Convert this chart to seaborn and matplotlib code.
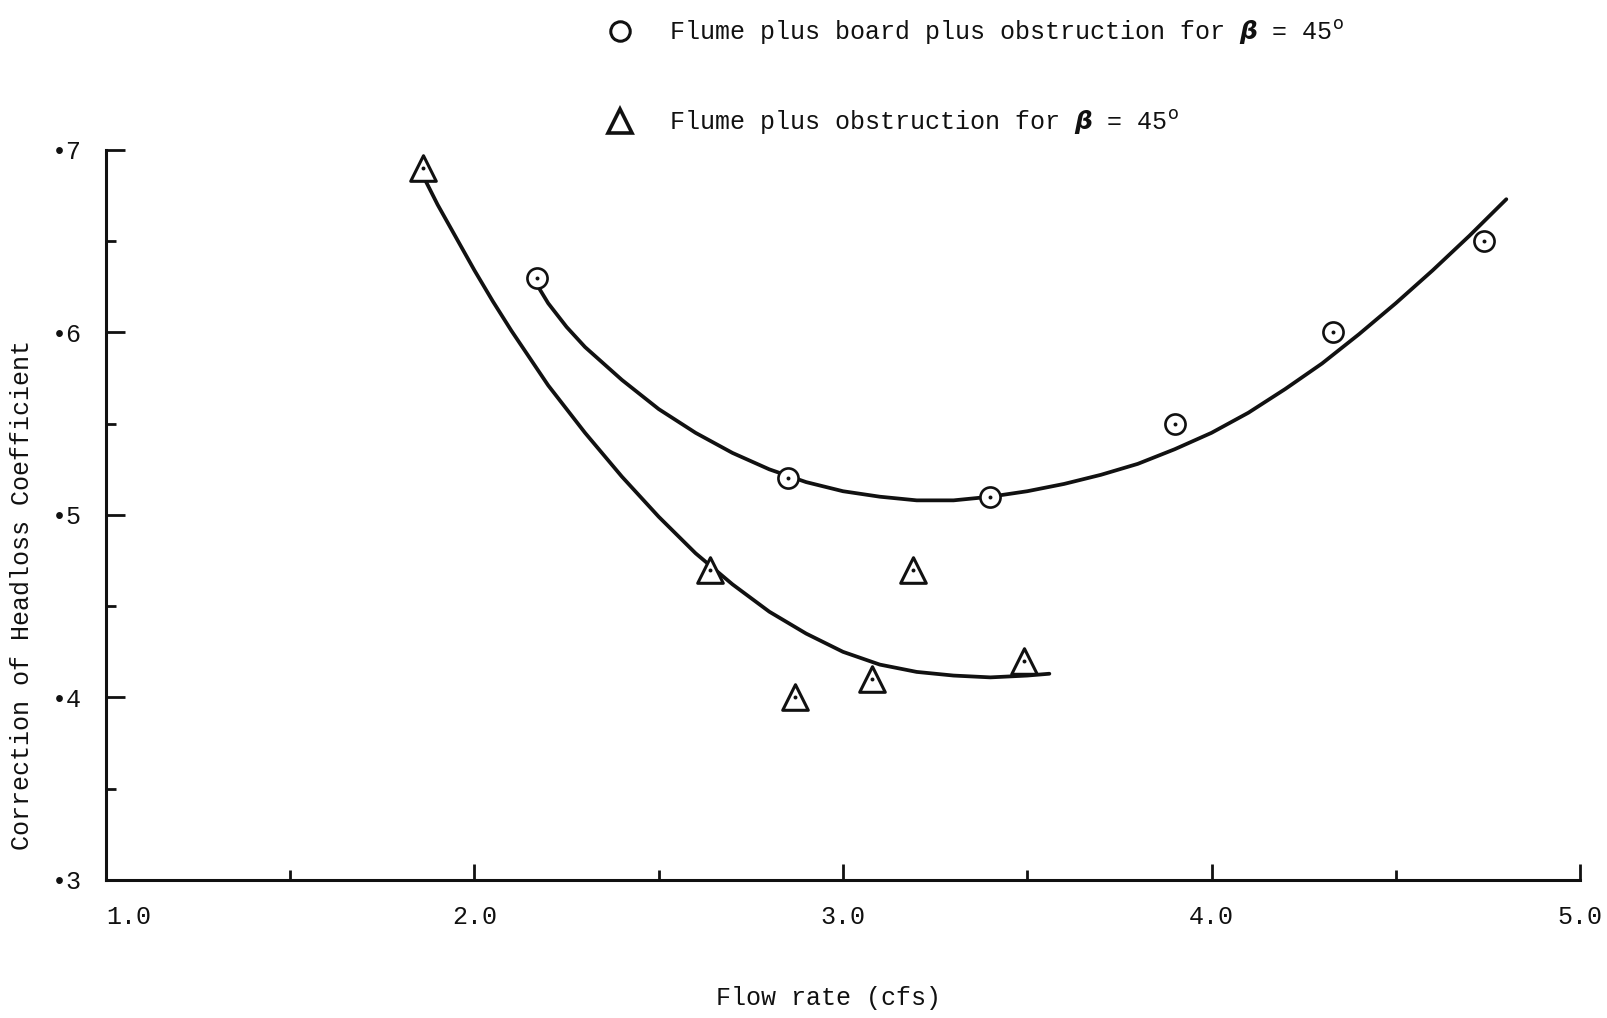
import matplotlib
matplotlib.use("Agg")
import matplotlib.pyplot as plt
import seaborn as sns
import pandas as pd
from matplotlib.lines import Line2D

# Measured points: flume plus board plus obstruction (beta = 45 deg)
board_flow = [2.17, 2.85, 3.40, 3.90, 4.33, 4.74]
board_coef = [0.63, 0.52, 0.51, 0.55, 0.60, 0.65]

# Measured points: flume plus obstruction (beta = 45 deg)
obst_flow = [1.86, 2.64, 2.87, 3.08, 3.19, 3.49]
obst_coef = [0.69, 0.47, 0.40, 0.41, 0.47, 0.42]

# Faired curves drawn through each data set
board_curve_flow = [2.17, 2.20, 2.25, 2.30, 2.40, 2.50, 2.60, 2.70, 2.80, 2.90,
                    3.00, 3.10, 3.20, 3.30, 3.40, 3.50, 3.60, 3.70, 3.80, 3.90,
                    4.00, 4.10, 4.20, 4.30, 4.40, 4.50, 4.60, 4.70, 4.80]
board_curve_coef = [0.626, 0.616, 0.603, 0.592, 0.574, 0.558, 0.545, 0.534, 0.525, 0.518,
                    0.513, 0.510, 0.508, 0.508, 0.510, 0.513, 0.517, 0.522, 0.528, 0.536,
                    0.545, 0.556, 0.569, 0.583, 0.599, 0.616, 0.634, 0.653, 0.673]
obst_curve_flow = [1.86, 1.90, 1.95, 2.00, 2.05, 2.10, 2.15, 2.20, 2.25, 2.30,
                   2.40, 2.50, 2.60, 2.70, 2.80, 2.90, 3.00, 3.10, 3.20, 3.30,
                   3.40, 3.50, 3.56]
obst_curve_coef = [0.686, 0.670, 0.652, 0.634, 0.617, 0.601, 0.586, 0.571, 0.558, 0.545,
                   0.521, 0.499, 0.479, 0.462, 0.447, 0.435, 0.425, 0.418, 0.414, 0.412,
                   0.411, 0.412, 0.413]

# Axis ticks and labels
x_major = [1.0, 2.0, 3.0, 4.0, 5.0]
x_minor = [1.5, 2.5, 3.5, 4.5]
x_labels = ["1.0", "2.0", "3.0", "4.0", "5.0"]
y_major = [0.3, 0.4, 0.5, 0.6, 0.7]
y_minor = [0.35, 0.45, 0.55, 0.65]
y_labels = ["•3", "•4", "•5", "•6", "•7"]

legend_labels = [
    r"Flume plus board plus obstruction for $\boldsymbol{\beta}$ = 45$^{\rm o}$",
    r"Flume plus obstruction for $\boldsymbol{\beta}$ = 45$^{\rm o}$",
]

sns.set_theme(style="white")
plt.rcParams["font.family"] = ["Liberation Mono", "DejaVu Sans"]
plt.rcParams["mathtext.fontset"] = "dejavusans"

board_pts = pd.DataFrame({"flow": board_flow, "coef": board_coef})
obst_pts = pd.DataFrame({"flow": obst_flow, "coef": obst_coef})
board_curve = pd.DataFrame({"flow": board_curve_flow, "coef": board_curve_coef})
obst_curve = pd.DataFrame({"flow": obst_curve_flow, "coef": obst_curve_coef})

fig = plt.figure(figsize=(16.08, 10.18), dpi=100)
ax = fig.add_axes([0.0659, 0.1356, 0.9167, 0.7171])

ink = "#111111"

sns.lineplot(data=board_curve, x="flow", y="coef", sort=False, estimator=None,
             color=ink, linewidth=2.7, ax=ax, zorder=2)
sns.lineplot(data=obst_curve, x="flow", y="coef", sort=False, estimator=None,
             color=ink, linewidth=2.7, ax=ax, zorder=2)

sns.scatterplot(data=board_pts, x="flow", y="coef", marker="o", s=210,
                facecolor="white", edgecolor=ink, linewidth=1.9, ax=ax,
                zorder=3, clip_on=False)
sns.scatterplot(data=obst_pts, x="flow", y="coef", marker="^", s=340,
                facecolor="white", edgecolor=ink, linewidth=2.2, ax=ax,
                zorder=3, clip_on=False)
# centre dots inside the symbols
sns.scatterplot(data=board_pts, x="flow", y="coef", marker="o", s=8,
                color=ink, linewidth=0, ax=ax, zorder=4, clip_on=False)
sns.scatterplot(data=obst_pts, x="flow", y="coef", marker="o", s=8,
                color=ink, linewidth=0, ax=ax, zorder=4, clip_on=False)

ax.set_xlim(1.0, 5.0)
ax.set_ylim(0.3, 0.7)
ax.set_xticks(x_major)
ax.set_xticklabels(x_labels)
ax.set_xticks(x_minor, minor=True)
ax.set_yticks(y_major)
ax.set_yticklabels(y_labels)
ax.set_yticks(y_minor, minor=True)

for side in ("top", "right"):
    ax.spines[side].set_visible(False)
for side in ("left", "bottom"):
    ax.spines[side].set_color(ink)
    ax.spines[side].set_linewidth(2.2)

ax.tick_params(axis="both", which="major", direction="in", color=ink,
               width=2.0, labelsize=18, labelcolor=ink)
ax.tick_params(axis="y", which="major", length=13.5, pad=17)
ax.tick_params(axis="x", which="major", length=11.5, pad=18)
ax.tick_params(axis="both", which="minor", direction="in", color=ink,
               width=2.0, length=7)
ax.tick_params(left=True, bottom=True, which="both")

# the first flow label sits just to the right of the origin
ax.get_xticklabels()[0].set_horizontalalignment("left")

ax.set_xlabel("Flow rate (cfs)", fontsize=18, color=ink)
ax.set_ylabel("Correction of Headloss Coefficient", fontsize=18, color=ink)
ax.xaxis.set_label_coords(0.49, -0.162)
ax.yaxis.set_label_coords(-0.057, 0.39)
ax.xaxis.label.set_va("center")
ax.yaxis.label.set_va("center")

handles = [
    Line2D([], [], linestyle="none", marker="o", markersize=14,
           markerfacecolor="white", markeredgecolor=ink, markeredgewidth=2.2),
    Line2D([], [], linestyle="none", marker="^", markersize=17,
           markerfacecolor="white", markeredgecolor=ink, markeredgewidth=2.6),
]
fig.legend(handles, legend_labels, loc="upper left",
           bbox_to_anchor=(608 / 1608, 1 - 18 / 1018), frameon=False,
           fontsize=18, handlelength=1.0, handletextpad=1.44,
           labelspacing=2.45, borderpad=0, borderaxespad=0,
           labelcolor=ink)

fig.savefig("out.png", dpi=100, facecolor="white")
